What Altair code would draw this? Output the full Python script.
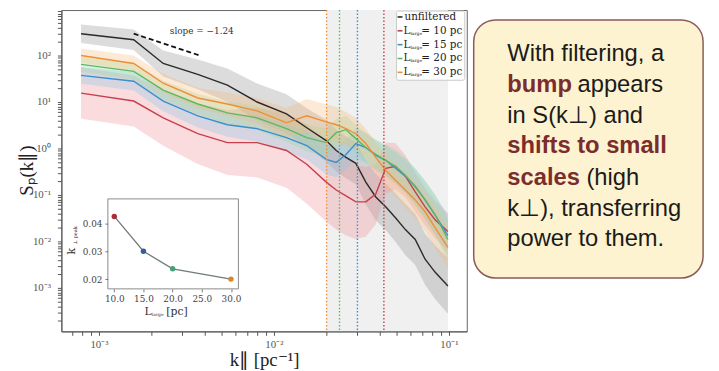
import altair as alt
import pandas as pd

# ---------------- data ----------------
K = [0.00079, 0.00158, 0.00233, 0.00367, 0.00542, 0.00801, 0.0118, 0.0154, 0.0199, 0.0227,
     0.0258, 0.0294, 0.0335, 0.0382, 0.0435, 0.0495, 0.0564, 0.0642, 0.0731, 0.0833, 0.0987]

S_UNF = [294, 219, 67.6, 39.4, 23.0, 10.0, 5.56, 2.80, 1.48, 0.906, 0.644, 0.480, 0.189,
         0.0906, 0.0556, 0.0324, 0.0180, 0.0110, 0.00414, 0.00219, 0.00110]
S_10 = [15.5, 10.5, 4.57, 2.08, 1.34, 1.34, 0.906, 0.457, 0.189, 0.128, 0.0953, 0.0710, 0.0710,
        0.105, 0.375, 0.414, 0.253, 0.116, 0.0556, 0.0294, 0.0163]
S_15 = [37.5, 28.0, 10.5, 5.04, 3.24, 2.67, 1.71, 1.16, 0.583, 0.503, 0.745, 1.28, 1.05,
        0.710, 0.556, 0.375, 0.253, 0.155, 0.0783, 0.0375, 0.0134]
S_20 = [64.4, 45.7, 18.0, 9.06, 5.83, 4.57, 2.67, 1.71, 1.34, 2.19, 2.54, 1.63, 1.05,
        0.745, 0.556, 0.414, 0.267, 0.148, 0.0783, 0.0375, 0.0110]
S_30 = [100, 67.6, 25.4, 12.2, 9.06, 6.44, 3.57, 5.04, 3.75, 3.24, 2.67, 2.08, 1.28,
        0.644, 0.340, 0.208, 0.128, 0.0783, 0.0435, 0.0199, 0.00745]

# half-width of the shaded bands, in decades
SP_UNF = [0.20, 0.22, 0.28, 0.32, 0.36, 0.40, 0.42, 0.42, 0.45, 0.45, 0.45, 0.45, 0.48,
          0.50, 0.50, 0.52, 0.55, 0.55, 0.55, 0.58, 0.60]
SP_10 = [0.55, 0.55, 0.60, 0.65, 0.70, 0.75, 0.80, 0.85, 0.85, 0.85, 0.85, 0.80, 0.75,
         0.65, 0.55, 0.50, 0.45, 0.42, 0.40, 0.40, 0.40]
SP_15 = [0.18, 0.20, 0.22, 0.25, 0.26, 0.28, 0.30, 0.30, 0.32, 0.32, 0.32, 0.32, 0.32,
         0.32, 0.32, 0.34, 0.36, 0.38, 0.40, 0.42, 0.45]
SP_20 = [0.16, 0.18, 0.20, 0.22, 0.24, 0.26, 0.28, 0.30, 0.30, 0.30, 0.30, 0.30, 0.32,
         0.32, 0.34, 0.36, 0.38, 0.40, 0.42, 0.44, 0.45]
SP_30 = [0.15, 0.17, 0.20, 0.22, 0.25, 0.28, 0.32, 0.36, 0.38, 0.38, 0.36, 0.34, 0.32,
         0.32, 0.34, 0.36, 0.38, 0.40, 0.42, 0.44, 0.45]

SERIES = ["unfiltered", "L10", "L15", "L20", "L30"]
LEGEND_NAMES = ["unfiltered", "10 pc", "15 pc", "20 pc", "30 pc"]

L_LARGE = [10, 15, 20, 30]
K_PEAK = [0.0425, 0.0300, 0.0237, 0.0200]

SLOPE = -1.24
SLOPE_K = [0.00158, 0.0038]
SLOPE_S0 = 295.0
SLOPE_LABEL_K = 0.00387
SLOPE_LABEL_S = 340.0

X_DOMAIN = [0.00061, 0.1265]
Y_DOMAIN = [0.000116, 953.0]
X_MAJOR = [0.001, 0.01, 0.1]
X_MAJOR_LABELS = ["10\u207b\u00b3", "10\u207b\u00b2", "10\u207b\u00b9"]
Y_MAJOR = [0.001, 0.01, 0.1, 1.0, 10.0, 100.0]
Y_MAJOR_LABELS = ["10\u207b\u00b3", "10\u207b\u00b2", "10\u207b\u00b9", "10\u2070", "10\u00b9", "10\u00b2"]

INSET_X_DOMAIN = [8.9, 31.27]
INSET_Y_DOMAIN = [0.0165, 0.0488]
INSET_X_TICKS = [10, 15, 20, 25, 30]
INSET_Y_TICKS = [0.02, 0.03, 0.04]

CALLOUT_NORMAL = ["With filtering, a", "appears", "in S(k\u22a5) and", "(high",
                  "k\u22a5), transferring", "power to them."]
CALLOUT_BOLD = ["bump", "shifts to small", "scales"]

# ---------------- styles ----------------
LINE_COLORS = ["#2a2a2a", "#C63F4C", "#3A8FCB", "#5CB862", "#EE8F36"]
BAND_COLORS = ["#8c8c8c", "#F08C96", "#7FC8E8", "#96D696", "#F8B878"]
PT_COLORS = ["#B02A35", "#2F5F9E", "#45A07A", "#D9862F"]
SERIF = "DejaVu Serif"
SERIF2 = "Liberation Serif"
SANS = "Liberation Sans"


def log_ticks(lo, hi):
    out = []
    for e in range(-5, 4):
        for m in range(1, 10):
            v = float(f"{m}e{e}")
            if lo <= v <= hi:
                out.append(v)
    return out


def label_expr(vals, labels):
    s = "''"
    for v, l in zip(vals, labels):
        s = f"datum.value == {v!r} ? '{l}' : " + s
    return s


W, H = 410, 325

XS = alt.Scale(type="log", domain=X_DOMAIN, nice=False)
YS = alt.Scale(type="log", domain=Y_DOMAIN, nice=False)
FILL_SCALE = alt.Scale(domain=SERIES, range=BAND_COLORS)
STROKE_SCALE = alt.Scale(domain=SERIES, range=LINE_COLORS)

X_AX = alt.Axis(values=log_ticks(*X_DOMAIN), labelExpr=label_expr(X_MAJOR, X_MAJOR_LABELS),
                tickSize=4, labelPadding=3, labelFont=SERIF2, labelFontSize=11,
                labelColor="#555", domainColor="#555", tickColor="#555", grid=False,
                labelOverlap=False, labelFlush=False, zindex=1,
                title="k\u2225 [pc\u207b\u00b9]", titleFont=SERIF2, titleFontSize=19,
                titleFontWeight="normal", titleColor="#222",
                titleX=205, titleY=35, titleBaseline="alphabetic", titleAlign="center")
Y_AX = alt.Axis(values=log_ticks(*Y_DOMAIN), labelExpr=label_expr(Y_MAJOR, Y_MAJOR_LABELS),
                tickSize=4, labelPadding=7, labelFont=SERIF2, labelFontSize=11,
                labelColor="#555", domainColor="#555", tickColor="#555", grid=False,
                labelOverlap=False, labelFlush=False, zindex=1,
                title="S\u209a(k\u2225)", titleFont=SERIF2, titleFontSize=19,
                titleFontWeight="normal", titleColor="#222",
                titleX=-35, titleY=162, titleBaseline="middle", titleAlign="center", titleAngle=270)

# ---------------- main panel ----------------
rows = []
for name, S, sp in zip(SERIES, [S_UNF, S_10, S_15, S_20, S_30], [SP_UNF, SP_10, SP_15, SP_20, SP_30]):
    for k, s, d in zip(K, S, sp):
        rows.append(dict(series=name, k=k, S=s, lo=s * 10 ** (-d), hi=s * 10 ** d))
df = pd.DataFrame(rows)

shade = alt.Chart(pd.DataFrame({"a": [min(K_PEAK)], "b": [K[-1]]})).mark_rect(
    color="#F0F0F0").encode(x=alt.X("a:Q", scale=XS, axis=X_AX), x2="b:Q")

bands = alt.Chart(df).mark_area(opacity=0.3).encode(
    x=alt.X("k:Q", scale=XS, axis=X_AX),
    y=alt.Y("lo:Q", scale=YS, axis=Y_AX), y2="hi:Q",
    fill=alt.Fill("series:N", scale=FILL_SCALE, legend=None))

lines = alt.Chart(df).mark_line(strokeWidth=1.4).encode(
    x=alt.X("k:Q", scale=XS, axis=X_AX),
    y=alt.Y("S:Q", scale=YS, axis=Y_AX),
    stroke=alt.Stroke("series:N", scale=STROKE_SCALE, legend=None))

peaks = alt.Chart(pd.DataFrame({"k": K_PEAK, "series": SERIES[1:]})).mark_rule(
    strokeDash=[1.5, 2], strokeWidth=1.4).encode(
    x=alt.X("k:Q", scale=XS, axis=X_AX),
    stroke=alt.Stroke("series:N", scale=STROKE_SCALE, legend=None))

slope_df = pd.DataFrame({"k": SLOPE_K,
                         "S": [SLOPE_S0 * (k / SLOPE_K[0]) ** SLOPE for k in SLOPE_K]})
slope_line = alt.Chart(slope_df).mark_line(strokeDash=[5, 3], color="#111", strokeWidth=1.8).encode(
    x=alt.X("k:Q", scale=XS, axis=X_AX), y=alt.Y("S:Q", scale=YS, axis=Y_AX))
slope_txt = alt.Chart(pd.DataFrame({"k": [SLOPE_LABEL_K], "S": [SLOPE_LABEL_S],
                                    "t": [f"slope = \u2212{abs(SLOPE):.2f}"]})).mark_text(
    font=SERIF, fontSize=9, color="#333", align="center", baseline="middle").encode(
    x=alt.X("k:Q", scale=XS, axis=X_AX), y=alt.Y("S:Q", scale=YS, axis=Y_AX), text="t:N")


def pix_text(d, **kw):
    return alt.Chart(pd.DataFrame(d, columns=["t", "px", "py", "fs"])).mark_text(**kw).encode(
        x=alt.X("px:Q", scale=None), y=alt.Y("py:Q", scale=None), text="t:N",
        size=alt.Size("fs:Q", scale=None, legend=None))


one = pd.DataFrame({"a": [0]})

# legend
LEG_Y = [7, 21, 35, 49, 63]
legend_box = alt.Chart(one).mark_rect(fill="white", stroke="#c8c8c8", strokeWidth=1, cornerRadius=2).encode(
    x=alt.value(339), x2=alt.value(408), y=alt.value(1), y2=alt.value(71))
legend_sym = alt.Chart(pd.DataFrame({"series": SERIES, "py": LEG_Y})).mark_rule(strokeWidth=1.6).encode(
    x=alt.value(340), x2=alt.value(345), y=alt.Y("py:Q", scale=None),
    stroke=alt.Stroke("series:N", scale=STROKE_SCALE, legend=None))
leg_rows = [(LEGEND_NAMES[0], 347, LEG_Y[0], 10.5)]
for name, y in zip(LEGEND_NAMES[1:], LEG_Y[1:]):
    leg_rows += [("L", 346, y, 10.5), ("large", 353, y + 3, 4.5), (f"= {name}", 364, y, 10.5)]
legend_txt = pix_text(leg_rows, font=SERIF, color="#222", align="left", baseline="middle")

# inset axis titles (pixel positioned pieces)
ititle_h = pix_text([("L", 84, 305, 11), ("large", 91.5, 308, 4.5), ("[pc]", 106, 305, 11)],
                    font=SERIF, color="#333", align="left", baseline="middle")
ititle_v = pix_text([("k", 11, 244, 11), ("\u22a5 peak", 14, 228, 5)],
                    font=SERIF, color="#333", align="center", baseline="middle", angle=270)

# callout box
callout_box = alt.Chart(one).mark_rect(fill="#FEF3D0", stroke="#8C5A5A", strokeWidth=1.5,
                                       cornerRadius=22).encode(
    x=alt.value(417), x2=alt.value(649), y=alt.value(10), y2=alt.value(271))
LINE_Y = [45, 76, 107, 138, 170, 201, 232]
normal_pos = [(451, LINE_Y[0]), (522, LINE_Y[1]), (451, LINE_Y[2]), (531, LINE_Y[4]),
              (451, LINE_Y[5]), (451, LINE_Y[6])]
bold_pos = [(451, LINE_Y[1]), (451, LINE_Y[3]), (451, LINE_Y[4])]
callout_n = pix_text([(t, x, y, 24) for t, (x, y) in zip(CALLOUT_NORMAL, normal_pos)],
                     font=SANS, color="#1b1b1b", align="left", baseline="middle")
callout_b = pix_text([(t, x, y, 24) for t, (x, y) in zip(CALLOUT_BOLD, bold_pos)],
                     font=SANS, fontWeight="bold", color="#7B2C2C", align="left", baseline="middle")

main = alt.layer(shade, bands, lines, peaks, slope_line, slope_txt,
                 legend_box, legend_sym, legend_txt, ititle_h, ititle_v,
                 callout_box, callout_n, callout_b)

# ---------------- inset ----------------
IXS = alt.Scale(domain=INSET_X_DOMAIN, range=[47, 179], nice=False, zero=False)
IYS = alt.Scale(domain=INSET_Y_DOMAIN, range=[282, 191], nice=False, zero=False)
IX_AX = alt.Axis(values=INSET_X_TICKS, format=".1f", orient="bottom", offset=-(H - 282),
                 tickSize=3, labelPadding=3, labelFont=SERIF, labelFontSize=9,
                 labelColor="#444", tickColor="#777", domain=False, grid=False, title=None, zindex=1)
IY_AX = alt.Axis(values=INSET_Y_TICKS, format=".2f", orient="left", offset=-47,
                 tickSize=3, labelPadding=3, labelFont=SERIF, labelFontSize=9,
                 labelColor="#444", tickColor="#777", domain=False, grid=False, title=None, zindex=1)

frame = alt.Chart(pd.DataFrame({"x1": [INSET_X_DOMAIN[0]], "x2": [INSET_X_DOMAIN[1]],
                                "y1": [INSET_Y_DOMAIN[0]], "y2": [INSET_Y_DOMAIN[1]]})).mark_rect(
    fill="white", stroke="#8a8a8a", strokeWidth=1).encode(
    x=alt.X("x1:Q", scale=IXS, axis=IX_AX), x2="x2:Q",
    y=alt.Y("y1:Q", scale=IYS, axis=IY_AX), y2="y2:Q")
idf = pd.DataFrame({"L": L_LARGE, "kp": K_PEAK, "series": SERIES[1:]})
iline = alt.Chart(idf).mark_line(color="#6e7c7c", strokeWidth=1.3).encode(
    x=alt.X("L:Q", scale=IXS, axis=IX_AX), y=alt.Y("kp:Q", scale=IYS, axis=IY_AX))
ipts = alt.Chart(idf).mark_circle(size=30, opacity=1).encode(
    x=alt.X("L:Q", scale=IXS, axis=IX_AX), y=alt.Y("kp:Q", scale=IYS, axis=IY_AX),
    color=alt.Color("series:N", scale=alt.Scale(domain=SERIES[1:], range=PT_COLORS), legend=None))
inset = alt.layer(frame, iline, ipts)

chart = alt.layer(main, inset).resolve_scale(x="independent", y="independent").properties(
    width=W, height=H,
    autosize=alt.AutoSizeParams(type="none"),
    padding={"left": 54, "top": 0, "right": 247, "bottom": 38},
).configure_view(stroke="#666", strokeWidth=1)

chart.save("out.html", embed_options={"renderer": "svg", "actions": False})
